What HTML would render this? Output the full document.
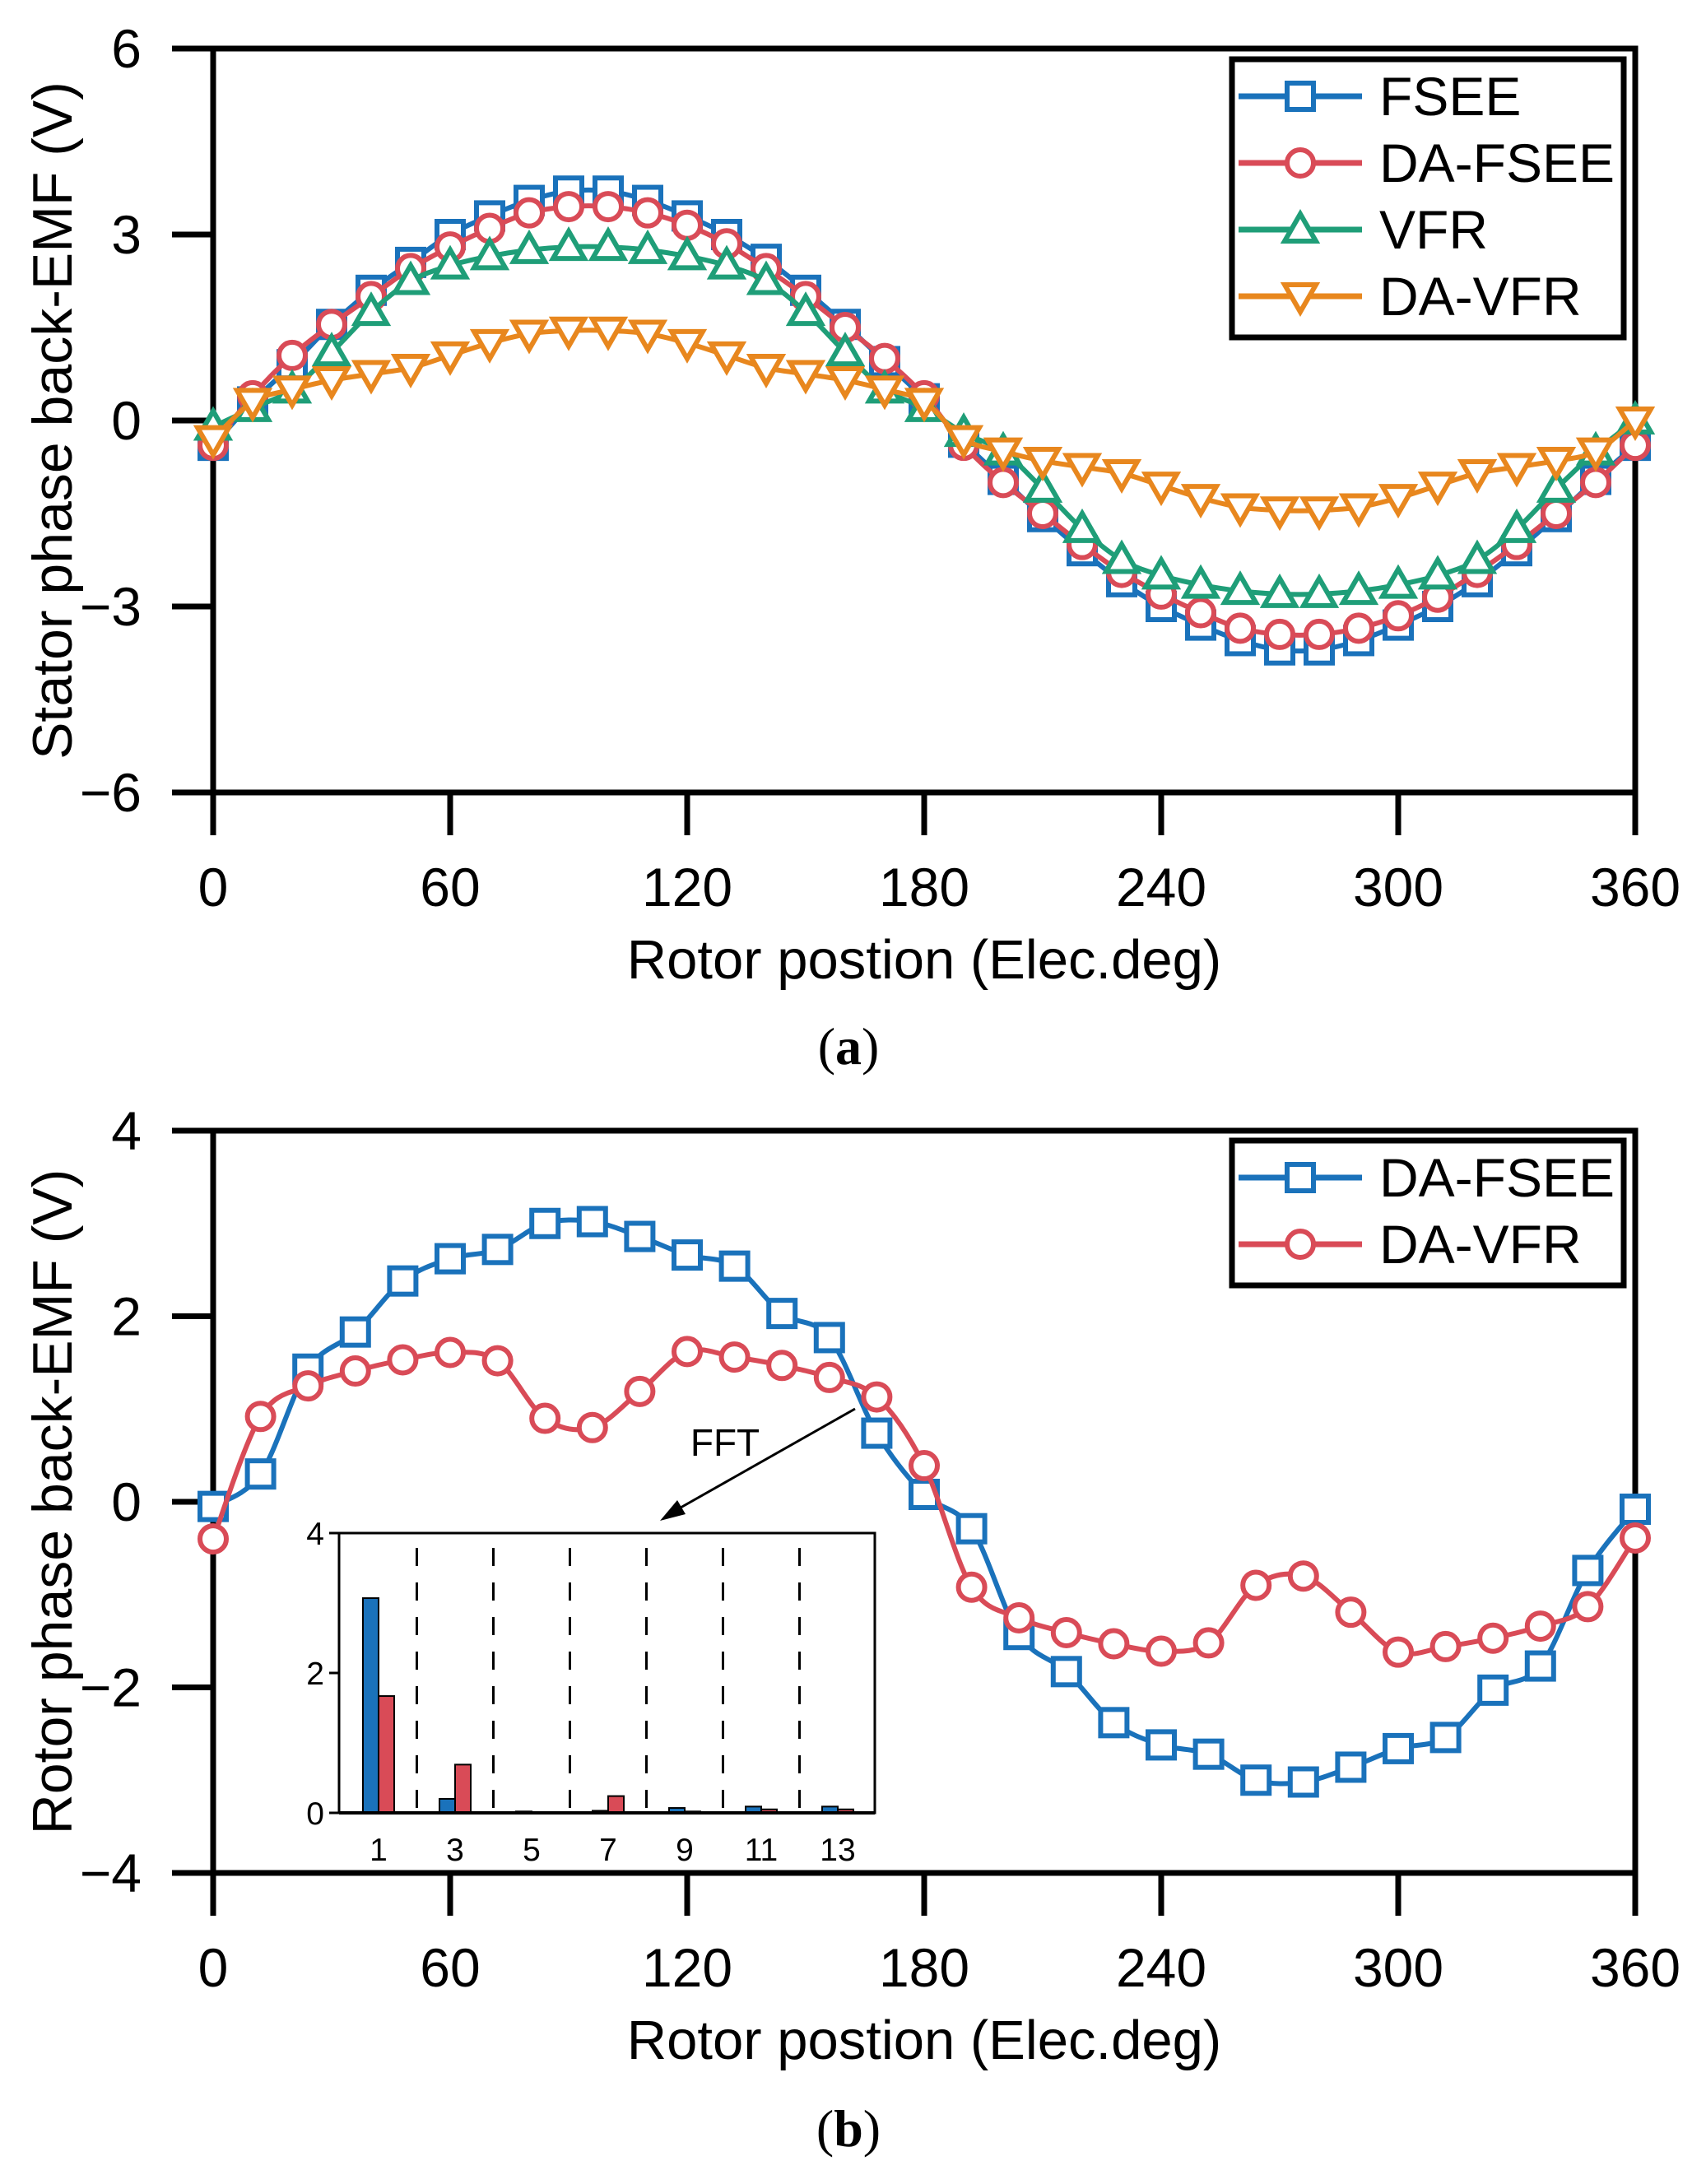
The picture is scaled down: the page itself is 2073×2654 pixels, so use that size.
<!DOCTYPE html>
<html><head><meta charset="utf-8">
<style>
html,body{margin:0;padding:0;background:#fff;}
svg{display:block;font-family:"Liberation Sans",Arial,sans-serif;}
</style></head>
<body>
<svg id="fig" width="2073" height="2654" viewBox="0 0 2073 2654" xmlns="http://www.w3.org/2000/svg"></svg>
<script>
// ---------- data ----------
const anglesA = [0,10,20,30,40,50,60,70,80,90,100,110,120,130,140,150,160,170,180,190,200,210,220,230,240,250,260,270,280,290,300,310,320,330,340,350,360];
const fseeA = [-0.4,0.3,0.9,1.55,2.1,2.55,3.0,3.3,3.55,3.7,3.7,3.55,3.3,3.0,2.6,2.1,1.55,0.95,0.35,-0.35,-0.95,-1.55,-2.1,-2.6,-3.0,-3.3,-3.55,-3.7,-3.7,-3.55,-3.3,-3.0,-2.6,-2.1,-1.55,-0.95,-0.4];
const daFseeA = [-0.4,0.4,1.05,1.55,2.0,2.45,2.8,3.1,3.35,3.45,3.45,3.35,3.15,2.85,2.45,2.0,1.5,1.0,0.4,-0.4,-1.0,-1.5,-2.0,-2.45,-2.8,-3.1,-3.35,-3.45,-3.45,-3.35,-3.15,-2.85,-2.45,-2.0,-1.5,-1.0,-0.4];
const vfrA = [-0.1,0.2,0.5,1.1,1.75,2.25,2.5,2.65,2.75,2.8,2.8,2.75,2.65,2.5,2.25,1.75,1.1,0.5,0.2,-0.2,-0.5,-1.1,-1.75,-2.25,-2.5,-2.65,-2.75,-2.8,-2.8,-2.75,-2.65,-2.5,-2.25,-1.75,-1.1,-0.5,0.0];
const daVfrA = [-0.3,0.3,0.5,0.65,0.75,0.85,1.05,1.25,1.4,1.45,1.45,1.4,1.25,1.05,0.85,0.75,0.65,0.5,0.3,-0.3,-0.5,-0.65,-0.75,-0.85,-1.05,-1.25,-1.4,-1.45,-1.45,-1.4,-1.25,-1.05,-0.85,-0.75,-0.65,-0.5,0.0];
const anglesB = [0,12,24,36,48,60,72,84,96,108,120,132,144,156,168,180,192,204,216,228,240,252,264,276,288,300,312,324,336,348,360];
const daFseeB = [-0.05,0.3,1.43,1.83,2.38,2.62,2.72,3.0,3.02,2.86,2.66,2.54,2.03,1.77,0.74,0.08,-0.29,-1.43,-1.83,-2.38,-2.62,-2.72,-3.0,-3.02,-2.86,-2.66,-2.54,-2.03,-1.77,-0.74,-0.08];
const daVfrB = [-0.4,0.92,1.25,1.41,1.53,1.61,1.52,0.9,0.8,1.19,1.62,1.56,1.47,1.34,1.13,0.39,-0.92,-1.25,-1.41,-1.53,-1.61,-1.52,-0.9,-0.8,-1.19,-1.62,-1.56,-1.47,-1.34,-1.13,-0.39];
const harmonics = [1,3,5,7,9,11,13];
const fftFsee = [3.07,0.2,0.02,0.03,0.07,0.09,0.09];
const fftVfr = [1.67,0.69,0.0,0.24,0.02,0.05,0.05];
const xTicks = [0,60,120,180,240,300,360];
const yTicksA = [-6,-3,0,3,6];
const yTicksB = [-4,-2,0,2,4];
const insetTicks = [0,2,4];

const BLUE="#1a72bb", RED="#d94b57", GREEN="#1f9e78", ORANGE="#e8871e";
const svg=document.getElementById('fig');
const NS="http://www.w3.org/2000/svg";
function mk(tag,attrs,parent){const e=document.createElementNS(NS,tag);for(const k in attrs)e.setAttribute(k,attrs[k]);(parent||svg).appendChild(e);return e;}

const X0=259,X1=1987;
function xs(d){return X0+(X1-X0)*d/360;}
function makeY(top,bot,vmax,vmin){return v=>top+(vmax-v)/(vmax-vmin)*(bot-top);}

function smoothPath(pts){
  let d=`M${pts[0][0]},${pts[0][1]}`;
  for(let i=0;i<pts.length-1;i++){
    const p0=pts[Math.max(0,i-1)],p1=pts[i],p2=pts[i+1],p3=pts[Math.min(pts.length-1,i+2)];
    const c1=[p1[0]+(p2[0]-p0[0])/6,p1[1]+(p2[1]-p0[1])/6];
    const c2=[p2[0]-(p3[0]-p1[0])/6,p2[1]-(p3[1]-p1[1])/6];
    d+=` C${c1[0]},${c1[1]} ${c2[0]},${c2[1]} ${p2[0]},${p2[1]}`;
  }
  return d;
}
function marker(type,x,y,color,g){
  const s=16;let e;
  if(type==='sq') e=mk('rect',{x:x-s,y:y-s,width:2*s,height:2*s,fill:'#fff',stroke:color,'stroke-width':6},g);
  else if(type==='ci') e=mk('circle',{cx:x,cy:y,r:s,fill:'#fff',stroke:color,'stroke-width':6},g);
  else if(type==='up') e=mk('polygon',{points:`${x},${y-19} ${x-19},${y+14} ${x+19},${y+14}`,fill:'#fff',stroke:color,'stroke-width':6},g);
  else e=mk('polygon',{points:`${x},${y+19} ${x-19},${y-14} ${x+19},${y-14}`,fill:'#fff',stroke:color,'stroke-width':6},g);
  return e;
}
function series(name,xsArr,ys,yf,color,type){
  const g=mk('g',{});
  
  
  const pts=xsArr.map((a,i)=>[xs(a),yf(ys[i])]);
  mk('path',{d:smoothPath(pts),fill:'none',stroke:color,'stroke-width':6},g);
  pts.forEach(p=>{const m=marker(type,p[0],p[1],color,g);
    
    });
}
function axes(prefix,top,bot,yTicks,yf,title){
  const g=mk('g',{});
  
  
  mk('rect',{x:X0,y:top,width:X1-X0,height:bot-top,fill:'none',stroke:'#000','stroke-width':7},g);
  yTicks.forEach(v=>{const y=yf(v);
    mk('line',{x1:X0-50,y1:y,x2:X0,y2:y,stroke:'#000','stroke-width':7},g);
    const t=mk('text',{x:172,y:y+23,'text-anchor':'end','font-size':66},g);
    t.textContent=v<0?'\u2212'+(-v):String(v);
    
    });
  xTicks.forEach(v=>{const x=xs(v);
    mk('line',{x1:x,y1:bot,x2:x,y2:bot+52,stroke:'#000','stroke-width':7},g);
    const t=mk('text',{x:x,y:bot+138,'text-anchor':'middle','font-size':66},g);
    t.textContent=String(v);
    
    });
  const xt=mk('text',{x:1123,y:bot+226,'text-anchor':'middle','font-size':67},g);
  xt.textContent='Rotor postion (Elec.deg)';
  
  
  const cy=(top+bot)/2;
  const yt=mk('text',{x:0,y:0,'text-anchor':'middle','font-size':68,transform:`translate(87,${cy}) rotate(-90)`},g);
  yt.textContent=title;
  
  
}
function legend(name,top,entries){
  const h=entries.length*81+14;
  const g=mk('g',{});
  
  
  mk('rect',{x:1497,y:top,width:476,height:h,fill:'#fff',stroke:'#000','stroke-width':7},g);
  entries.forEach((e,i)=>{const y=top+45+i*81;
    const eg=mk('g',{},g);
    
    
    mk('line',{x1:1505,y1:y,x2:1655,y2:y,stroke:e[1],'stroke-width':7},eg);
    marker(e[2],1580,y,e[1],eg);
    const t=mk('text',{x:1676,y:y+23,'font-size':66},eg);t.textContent=e[0];});
}

// ---------- plot a ----------
const yA=makeY(59,963,6,-6);
axes('plot-a',59,963,yTicksA,yA,'Stator phase back-EMF (V)');
series('fsee-line',anglesA,fseeA,yA,BLUE,'sq');
series('da-fsee-line',anglesA,daFseeA,yA,RED,'ci');
series('vfr-line',anglesA,vfrA,yA,GREEN,'up');
series('da-vfr-line',anglesA,daVfrA,yA,ORANGE,'dn');
legend('legend-a',72,[['FSEE',BLUE,'sq'],['DA-FSEE',RED,'ci'],['VFR',GREEN,'up'],['DA-VFR',ORANGE,'dn']]);
const ca=mk('text',{x:1031,y:1293,'text-anchor':'middle','font-size':64,'font-family':'"Liberation Serif",serif'});
ca.innerHTML='(<tspan font-weight="bold">a</tspan>)';



// ---------- plot b ----------
const yB=makeY(1374,2276,4,-4);
axes('plot-b',1374,2276,yTicksB,yB,'Rotor phase back-EMF (V)');
series('da-fsee-line-b',anglesB,daFseeB,yB,BLUE,'sq');
series('da-vfr-line-b',anglesB,daVfrB,yB,RED,'ci');
legend('legend-b',1386,[['DA-FSEE',BLUE,'sq'],['DA-VFR',RED,'ci']]);
const cb=mk('text',{x:1031,y:2608,'text-anchor':'middle','font-size':64,'font-family':'"Liberation Serif",serif'});
cb.innerHTML='(<tspan font-weight="bold">b</tspan>)';



// ---------- inset FFT ----------
const IX0=412,IX1=1063,IT=1863,IB=2203;
const yI=makeY(IT,IB,4,0);
function xi(k){return 460+(k-1)/2*93;}
const ig=mk('g',{});


mk('rect',{x:IX0,y:IT,width:IX1-IX0,height:IB-IT,fill:'#fff',stroke:'#000','stroke-width':3},ig);
for(let i=0;i<harmonics.length-1;i++){
  const x=(xi(harmonics[i])+xi(harmonics[i+1]))/2;
  mk('line',{x1:x,y1:IT+18,x2:x,y2:IB,stroke:'#000','stroke-width':3,'stroke-dasharray':'22,20'},ig);
}
harmonics.forEach((k,i)=>{
  const c=xi(k);
  const b=mk('rect',{x:c-19,y:yI(fftFsee[i]),width:19,height:IB-yI(fftFsee[i]),fill:BLUE,stroke:'#000','stroke-width':2},ig);
  
  
  const r=mk('rect',{x:c,y:yI(fftVfr[i]),width:19,height:IB-yI(fftVfr[i]),fill:RED,stroke:'#000','stroke-width':2},ig);
  
  
  const t=mk('text',{x:c,y:IB+58,'text-anchor':'middle','font-size':39},ig);
  t.textContent=String(k);
});
insetTicks.forEach(v=>{const y=yI(v);
  mk('line',{x1:IX0-12,y1:y,x2:IX0,y2:y,stroke:'#000','stroke-width':3},ig);
  const t=mk('text',{x:IX0-18,y:y+14,'text-anchor':'end','font-size':39},ig);t.textContent=String(v);});
mk('line',{x1:IX0,y1:IB,x2:IX1,y2:IB,stroke:'#000','stroke-width':4},ig);
const ft=mk('text',{x:881,y:1769,'text-anchor':'middle','font-size':46});
ft.textContent='FFT';


const ar=mk('g',{});


mk('line',{x1:1039,y1:1712,x2:820,y2:1836,stroke:'#000','stroke-width':3},ar);
mk('polygon',{points:'802,1848 823,1823 833,1840',fill:'#000'},ar);
</script>
</body></html>
